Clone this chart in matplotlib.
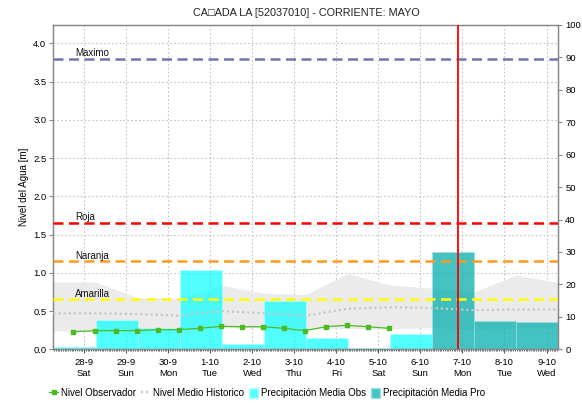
import numpy as np
import matplotlib
matplotlib.use('Agg')
import matplotlib.pyplot as plt
from matplotlib.ticker import MultipleLocator
from matplotlib.lines import Line2D
from matplotlib.patches import Patch

plt.rcParams['font.family'] = ['Liberation Sans', 'DejaVu Sans']

# days counted from 28-9 00:00
day_labels = ['28-9\nSat', '29-9\nSun', '30-9\nMon', '1-10\nTue', '2-10\nWed', '3-10\nThu',
              '4-10\nFri', '5-10\nSat', '6-10\nSun', '7-10\nMon', '8-10\nTue', '9-10\nWed']

# observed level, every 12 h starting 27-9 18:00
obs_t = [-0.25, 0.25, 0.75, 1.25, 1.75, 2.25, 2.75, 3.25, 3.75, 4.25, 4.75, 5.25, 5.75, 6.25, 6.75, 7.25]
obs_nivel = [0.23, 0.243, 0.243, 0.243, 0.256, 0.256, 0.274, 0.30, 0.295, 0.295, 0.274, 0.243,
             0.295, 0.313, 0.295, 0.274]

# historic mean and band
hist_t = [-0.73, 0.28, 1.28, 2.28, 3.28, 4.28, 5.28, 6.28, 7.28, 8.28, 9.28, 10.28, 11.28]
hist_medio = [0.47, 0.47, 0.46, 0.44, 0.50, 0.47, 0.44, 0.53, 0.55, 0.54, 0.51, 0.52, 0.52]
hist_max = [0.88, 0.88, 0.67, 0.67, 0.84, 0.73, 0.72, 0.99, 0.84, 0.80, 0.75, 0.97, 0.87]
hist_min = [0.24, 0.24, 0.26, 0.26, 0.28, 0.28, 0.27, 0.27, 0.27, 0.28, 0.27, 0.28, 0.28]

# daily precipitation (mm), bars start 07:00 of the previous day
precip_obs = [0.7, 9.0, 6.5, 24.6, 1.7, 14.9, 3.5, 0.4, 4.6]
precip_pro = [30.0, 8.7, 8.3]

umbrales = {'Maximo': 3.80, 'Roja': 1.656, 'Naranja': 1.154, 'Amarilla': 0.655}
umbral_colors = {'Maximo': '#6a78ad', 'Roja': '#ff0000', 'Naranja': '#ff9a1a', 'Amarilla': '#ffff00'}

ahora = 8.9
xmin, xmax = -0.73, 11.28
ymax_m = 4.24

fig = plt.figure(figsize=(5.82, 4.03), dpi=100)
ax = fig.add_axes([0.0916, 0.1333, 0.8677, 0.8047])
ax2 = ax.twinx()

# precipitation on the right axis
ax2.set_zorder(1)
ax.set_zorder(2)
ax.patch.set_visible(False)

ax2.fill_between(hist_t, np.array(hist_min) / ymax_m * 100, np.array(hist_max) / ymax_m * 100,
                 color='#ebebeb', lw=0, zorder=1)
n_obs = len(precip_obs)
lefts = np.arange(len(precip_obs) + len(precip_pro)) - 0.72
ax2.bar(lefts[:n_obs], precip_obs, width=1.0, align='edge', color='#00ffff', alpha=0.68,
        edgecolor='#b8ffff', lw=0.6, zorder=2)
ax2.bar(lefts[n_obs:], precip_pro, width=1.0, align='edge', color='#00adad', alpha=0.73,
        edgecolor='#9ee0e0', lw=0.6, zorder=2)
ax2.set_ylim(0, 100)
ax2.yaxis.set_major_locator(MultipleLocator(10))

# grid drawn on the precip axis so it is behind everything
for d in range(12):
    ax2.axvline(d, color='#c4c4c4', lw=0.8, ls=(0, (1.5, 2)), zorder=0)
for v in np.arange(0.5, 4.01, 0.5):
    ax2.axhline(v / ymax_m * 100, color='#c4c4c4', lw=0.8, ls=(0, (1.5, 2)), zorder=0)

# thresholds
for name, val in umbrales.items():
    ax.axhline(val, color=umbral_colors[name], lw=1.8, ls=(0, (4, 2.2)), zorder=3)
    ax.text(-0.22, val + 0.005, name, fontsize=7, va='bottom', ha='left', color='#111111', zorder=6)

ax.plot(hist_t, hist_medio, color='#c8c8c8', lw=1.6, ls=(0, (1, 1.3)), zorder=4)
ax.plot(obs_t, obs_nivel, color='#4cbb23', lw=0.9, marker='s', ms=2.6, zorder=5)
ax.axvline(ahora, color='#ff0000', lw=1.3, zorder=6)

ax.set_xlim(xmin, xmax)
ax.set_ylim(0, ymax_m)
ax.set_xticks(range(12))
ax.set_xticklabels(day_labels, fontsize=6.8, linespacing=1.35)
ax.xaxis.set_minor_locator(MultipleLocator(1 / 24))
ax.yaxis.set_major_locator(MultipleLocator(0.5))
ax.yaxis.set_major_formatter(matplotlib.ticker.FormatStrFormatter('%.1f'))
ax.tick_params(axis='y', labelsize=6.8, length=3, color='#888888', pad=2)
ax2.tick_params(axis='y', labelsize=6.8, length=3, color='#888888', pad=2)
ax.tick_params(axis='x', which='major', length=3, color='#555555', pad=3)
ax.tick_params(axis='x', which='minor', length=1.5, width=0.6, color='#555555')
ax.set_ylabel('Nivel del Agua [m]', fontsize=7, labelpad=3)

for a in (ax, ax2):
    for s in a.spines.values():
        s.set_color('#888888')
        s.set_linewidth(0.9)

fig.text(306 / 582, 0.968, 'CA\u25a1ADA LA [52037010] - CORRIENTE: MAYO', ha='center', va='center',
         fontsize=7.8, color='#222222')

handles = [Line2D([], [], color='#4cbb23', lw=0.9, marker='s', ms=2.3),
           Line2D([], [], color='#c8c8c8', lw=1.6, ls=(0, (1, 1.3))),
           Patch(facecolor='#55ffff', edgecolor='#b8ffff'),
           Patch(facecolor='#45c4c4', edgecolor='#9ee0e0')]
labels = ['Nivel Observador', 'Nivel Medio Historico', 'Precipitación Media Obs', 'Precipitación Media Pro']
fig.legend(handles, labels, loc='center', bbox_to_anchor=(267 / 582, 1 - 393 / 403), ncol=4,
           frameon=False, fontsize=7.0, handlelength=0.95, handletextpad=0.25, columnspacing=0.55,
           handleheight=1.2, borderpad=0.2)

plt.savefig('out.png', dpi=100)
